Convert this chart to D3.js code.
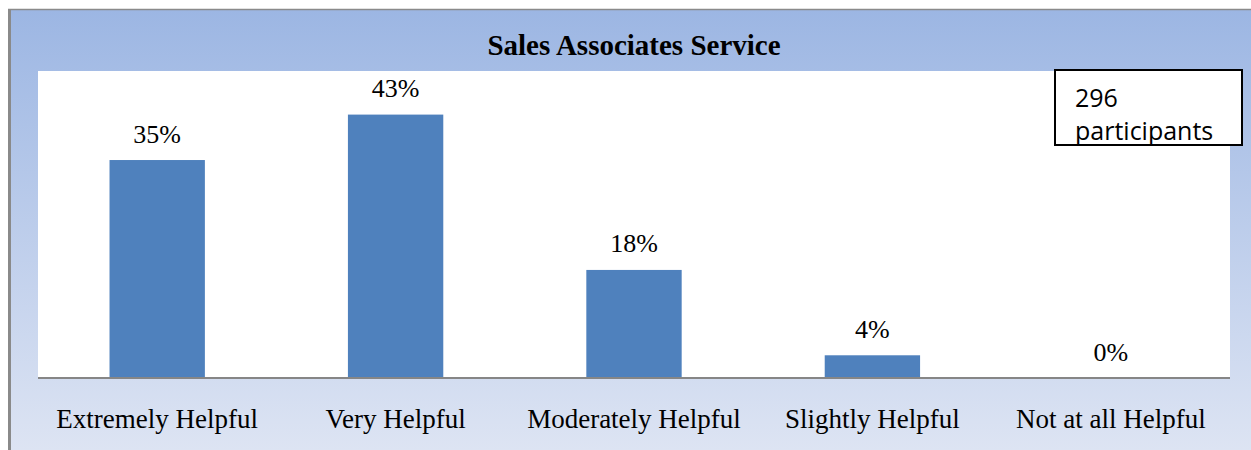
<!DOCTYPE html>
<html><head><meta charset="utf-8">
<script src="https://cdn.jsdelivr.net/npm/d3@7"></script>
<style>html,body{margin:0;padding:0;background:#fff;}svg{display:block;}</style>
</head><body>
<script>
const categories = ["Extremely Helpful", "Very Helpful", "Moderately Helpful", "Slightly Helpful", "Not at all Helpful"];
const values = [35.5, 42.9, 17.6, 3.7, 0];
const valueLabels = ["35%", "43%", "18%", "4%", "0%"];
const chartTitle = "Sales Associates Service";
const noteLines = ["296", "participants"];

const W = 1251, H = 450;
const svg = d3.select("body").append("svg").attr("width", W).attr("height", H);
const defs = svg.append("defs");
const grad = defs.append("linearGradient").attr("id", "bg").attr("x1", 0).attr("y1", 0).attr("x2", 0).attr("y2", 1);
grad.append("stop").attr("offset", "0%").attr("stop-color", "#9cb6e3");
grad.append("stop").attr("offset", "100%").attr("stop-color", "#dde4f3");

// frame
svg.append("rect").attr("x", 9).attr("y", 9).attr("width", W - 9).attr("height", H - 9).attr("fill", "url(#bg)");
svg.append("line").attr("x1", 9.5).attr("x2", 9.5).attr("y1", 9).attr("y2", H).attr("stroke", "#8a8a8a").attr("stroke-width", 3);
svg.append("line").attr("x1", 8).attr("x2", W).attr("y1", 9.5).attr("y2", 9.5).attr("stroke", "#8a8a8a").attr("stroke-width", 1.5);

const plot = {left: 38, right: 1230, top: 71, bottom: 378};
svg.append("rect").attr("x", plot.left).attr("y", plot.top).attr("width", plot.right - plot.left).attr("height", plot.bottom - plot.top).attr("fill", "#fff");

const x = d3.scaleBand().domain(categories).range([plot.left, plot.right]).paddingInner(0.6).paddingOuter(0.3);
const y = d3.scaleLinear().domain([0, 50]).range([plot.bottom, plot.top]);

svg.selectAll("rect.bar").data(values).join("rect").attr("class", "bar")
  .attr("x", (d, i) => x(categories[i])).attr("width", x.bandwidth())
  .attr("y", d => y(d)).attr("height", d => plot.bottom - y(d)).attr("fill", "#4f81bd");

svg.selectAll("text.val").data(values).join("text").attr("class", "val")
  .attr("x", (d, i) => x(categories[i]) + x.bandwidth() / 2)
  .attr("y", d => y(d) - 17.5)
  .attr("text-anchor", "middle").attr("font-family", "'Liberation Serif', 'Times New Roman', serif")
  .attr("font-size", 26).attr("fill", "#000").text((d, i) => valueLabels[i]);

// axis
const axis = svg.append("g").attr("transform", `translate(0,${plot.bottom})`)
  .call(d3.axisBottom(x).tickSize(0).tickPadding(0).tickSizeOuter(0));
axis.select(".domain").attr("stroke", "#868686").attr("stroke-width", 2).attr("d", `M${plot.left},0H${plot.right}`);
axis.selectAll(".tick text").attr("font-family", "'Liberation Serif', 'Times New Roman', serif")
  .attr("font-size", 27).attr("fill", "#000").attr("dy", null).attr("y", 50);

// title
svg.append("text").attr("x", 634).attr("y", 55).attr("text-anchor", "middle")
  .attr("font-family", "'Liberation Serif', 'Times New Roman', serif").attr("font-weight", "bold")
  .attr("font-size", 29).attr("fill", "#000").text(chartTitle);

// note box
svg.append("rect").attr("x", 1055).attr("y", 70).attr("width", 187).attr("height", 75)
  .attr("fill", "#fff").attr("stroke", "#000").attr("stroke-width", 2);
svg.append("text").attr("font-family", "'Open Sans', 'Liberation Sans', sans-serif").attr("font-size", 25).attr("fill", "#000")
  .selectAll("tspan").data(noteLines).join("tspan")
  .attr("x", 1075).attr("y", (d, i) => 107 + i * 33).text(d => d);
</script>
</body></html>
